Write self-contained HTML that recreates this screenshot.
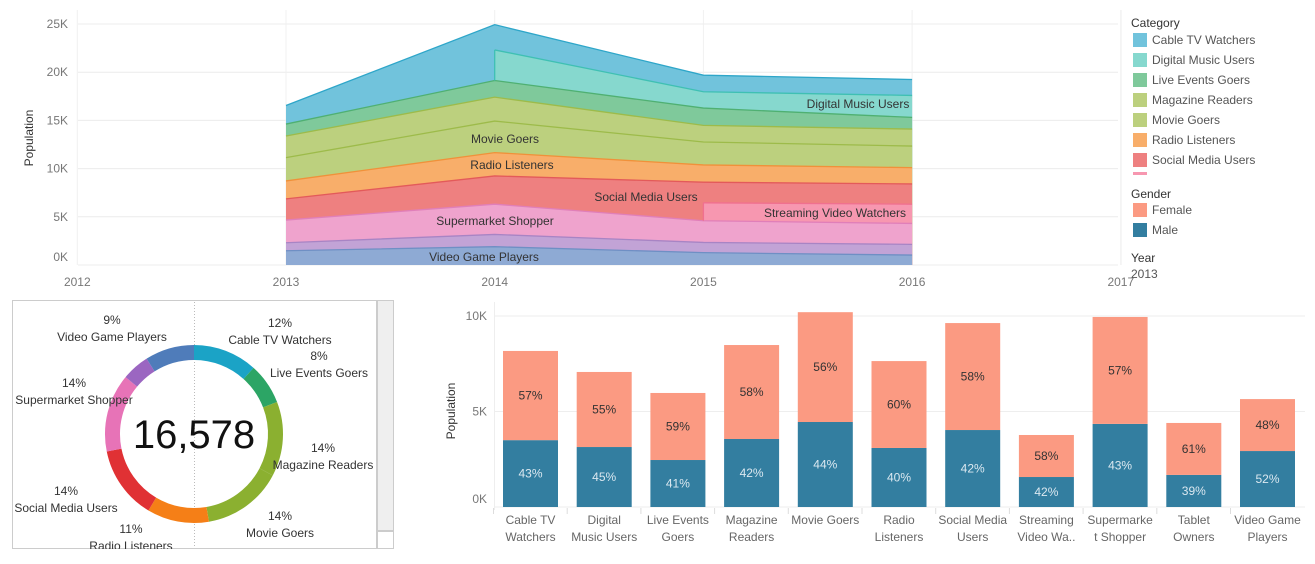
<!DOCTYPE html>
<html><head><meta charset="utf-8">
<style>
body{margin:0;width:1315px;height:559px;overflow:hidden;background:#fff;font-family:"Liberation Sans",sans-serif;}
svg text{font-family:"Liberation Sans",sans-serif;}
</style></head>
<body>
<svg id="root" width="1315" height="559">
  <g id="area"></g>
  <g id="legend"></g>
  <g id="donut"></g>
  <g id="bars"></g>
</svg>
<script>
const NS="http://www.w3.org/2000/svg";
function mk(parent,tag,attrs,text){const e=document.createElementNS(NS,tag);for(const k in attrs)e.setAttribute(k,attrs[k]);if(text!==undefined)e.textContent=text;parent.appendChild(e);return e;}

// ---------- Area chart data ----------
const years=[2013,2014,2015,2016];
const seriesNames=["Video Game Players","Tablet Owners","Supermarket Shopper","Streaming Video Watchers","Social Media Users","Radio Listeners","Movie Goers","Magazine Readers","Live Events Goers","Digital Music Users","Cable TV Watchers"];
const videoVals=[1.48,1.90,1.28,1.03];
const tabletVals=[0.83,1.27,1.06,1.11];
const superVals=[2.35,3.14,2.25,2.17];
const streamVals=[null,null,1.86,2.00];
const socialVals=[2.20,2.93,2.14,2.10];
const radioVals=[1.86,2.42,1.79,1.69];
const movieVals=[2.42,3.27,2.38,2.24];
const magVals=[2.24,2.48,1.72,1.76];
const liveVals=[1.24,1.73,1.80,1.21];
const digitalVals=[null,3.17,1.69,2.28];
const cableVals=[1.93,2.62,1.72,1.65];
const areaTicks=[0,5,10,15,20,25];
const xTickYears=[2012,2013,2014,2015,2016,2017];

const allVals=[videoVals,tabletVals,superVals,streamVals,socialVals,radioVals,movieVals,magVals,liveVals,digitalVals,cableVals];
const fills=["#8eaad4","#c2a3d6","#efa3cd","#f797b0","#ee8080","#f8ae6a","#bcd07e","#bcd07e","#7fc99b","#86d8ce","#71c3dc"];
const strokes=["#6f8fc4","#a884c4","#e07fb9","#f0708f","#e35a5a","#f0913a","#9dbb4a","#9dbb4a","#4fb072","#3fc0b3","#2ea6c9"];

const ax=y=>286+(y-2013)*208.7;
const ay=v=>265-v*9.64;
const A=document.getElementById('area');
areaTicks.forEach(t=>{
  const g=mk(A,'line',{x1:78,x2:1118,y1:ay(t),y2:ay(t),stroke:"#ececec"});
  
  
  const l=mk(A,'text',{x:68,y:t===0?261:ay(t)+4,'text-anchor':'end','font-size':12,fill:'#777'},t+'K');
  
  
});
xTickYears.forEach(y=>{
  const g=mk(A,'line',{x1:ax(y),x2:ax(y),y1:10,y2:265,stroke:"#f0f0f0"});
  
  
  const l=mk(A,'text',{x:ax(y),y:286,'text-anchor':'middle','font-size':12,fill:'#777'},String(y));
  
  
});
const yt=mk(A,'text',{x:0,y:0,transform:'translate(33,138) rotate(-90)','text-anchor':'middle','font-size':12,fill:'#333'},'Population');



// compute cumulative tops
const cum=years.map(()=>0);
const tops=[];
allVals.forEach((vals,si)=>{
  const idx=[];vals.forEach((v,i)=>{if(v!==null)idx.push(i);});
  const up=idx.map(i=>cum[i]+vals[i]);
  idx.forEach((i,k)=>{cum[i]=up[k];});
  tops.push({idx:idx,up:up});
});
// paint top-down, each from baseline 0 to its top
for(let si=allVals.length-1;si>=0;si--){
  const {idx,up}=tops[si];
  let d='M'+ax(years[idx[0]])+','+ay(0);
  idx.forEach((i,k)=>{d+='L'+ax(years[i])+','+ay(up[k]);});
  d+='L'+ax(years[idx[idx.length-1]])+','+ay(0)+'Z';
  const p=mk(A,'path',{d:d,fill:fills[si],stroke:'none'});
  
  
}
// top lines
tops.forEach(({idx,up},si)=>{
  let ld='';
  idx.forEach((i,k)=>{ld+=(k?'L':'M')+ax(years[i])+','+ay(up[k]);});
  const ln=mk(A,'path',{d:ld,fill:'none',stroke:strokes[si],'stroke-width':1.3});
  
  
  if(idx[0]>0){
    const x=ax(years[idx[0]]);
    const prev=tops.slice(0,si).filter(t=>t.idx.includes(idx[0])).pop();
    const low=prev?prev.up[prev.idx.indexOf(idx[0])]:0;
    const v=mk(A,'line',{x1:x,x2:x,y1:ay(low),y2:ay(up[0]),stroke:strokes[si],'stroke-width':1.3});
    
    
  }
});
const areaLabels=[["Digital Music Users",858,108],["Movie Goers",505,143],["Radio Listeners",512,169],["Social Media Users",646,201],["Streaming Video Watchers",835,217],["Supermarket Shopper",495,225],["Video Game Players",484,261]];
areaLabels.forEach(l=>{
  const t=mk(A,'text',{x:l[1],y:l[2],'text-anchor':'middle','font-size':12,fill:'#333'},l[0]);
  
  
});

// ---------- Legend ----------
const L=document.getElementById('legend');
mk(L,'line',{x1:1121,x2:1121,y1:10,y2:265,stroke:'#eee'});
const legCats=["Cable TV Watchers","Digital Music Users","Live Events Goers","Magazine Readers","Movie Goers","Radio Listeners","Social Media Users"];
const legColors=["#71c3dc","#86d8ce","#7fc99b","#bcd07e","#bcd07e","#f8ae6a","#ee8080"];
let t=mk(L,'text',{x:1131,y:27,'font-size':12,fill:'#333'},'Category');

legCats.forEach((c,i)=>{
  const y=33+i*20;
  const r=mk(L,'rect',{x:1133,y:y,width:14,height:14,fill:legColors[i]});
  
  const tx=mk(L,'text',{x:1152,y:y+11,'font-size':12,fill:'#555'},c);
  
});
mk(L,'rect',{x:1133,y:172,width:14,height:3,fill:'#f797b0'});
t=mk(L,'text',{x:1131,y:198,'font-size':12,fill:'#333'},'Gender');

[["Female","#fb9a82"],["Male","#337ea0"]].forEach((g,i)=>{
  const y=203+i*20;
  const r=mk(L,'rect',{x:1133,y:y,width:14,height:14,fill:g[1]});
  
  const tx=mk(L,'text',{x:1152,y:y+11,'font-size':12,fill:'#555'},g[0]);
  
});
t=mk(L,'text',{x:1131,y:262,'font-size':12,fill:'#333'},'Year');

t=mk(L,'text',{x:1131,y:278,'font-size':12,fill:'#555'},'2013');


// ---------- Donut ----------
const donutCats=["Cable TV Watchers","Live Events Goers","Magazine Readers","Movie Goers","Radio Listeners","Social Media Users","Supermarket Shopper","Tablet Owners","Video Game Players"];
const donutVals=[1.93,1.24,2.24,2.42,1.86,2.20,2.35,0.83,1.48];
const donutColors=["#1ba3c6","#2ca565","#8bb030","#8bb030","#f57f17","#e03134","#e773b7","#9b66c1","#4f7cba"];
const D=document.getElementById('donut');
mk(D,'rect',{x:12.5,y:300.5,width:364,height:248,fill:'#fff',stroke:'#ccc'});
const sb=mk(D,'rect',{x:377.5,y:300.5,width:16,height:230,fill:'#efefef',stroke:'#ccc'});

mk(D,'rect',{x:377.5,y:531.5,width:16,height:17,fill:'#fff',stroke:'#ccc'});
mk(D,'line',{x1:194.5,x2:194.5,y1:302,y2:548,stroke:'#bbb','stroke-dasharray':'1,2'});
const cx=194,cy=434,ro=89,ri=74;
const tot=donutVals.reduce((a,b)=>a+b,0);
let ang=0;
donutVals.forEach((v,i)=>{
  const a0=ang,a1=ang+v/tot*2*Math.PI;ang=a1;
  const p=(r,a)=>[cx+r*Math.sin(a),cy-r*Math.cos(a)];
  const [x0,y0]=p(ro,a0),[x1,y1]=p(ro,a1),[x2,y2]=p(ri,a1),[x3,y3]=p(ri,a0);
  const lg=(a1-a0)>Math.PI?1:0;
  const s=mk(D,'path',{d:`M${x0},${y0}A${ro},${ro} 0 ${lg} 1 ${x1},${y1}L${x2},${y2}A${ri},${ri} 0 ${lg} 0 ${x3},${y3}Z`,fill:donutColors[i]});
  
  
});
t=mk(D,'text',{x:cx,y:cy+14,'text-anchor':'middle','font-size':40,fill:'#111'},'16,578');

const dl=[["9%","Video Game Players",112,320],["12%","Cable TV Watchers",280,323],["8%","Live Events Goers",319,356],["14%","Magazine Readers",323,448],["14%","Movie Goers",280,516],["11%","Radio Listeners",131,529],["14%","Social Media Users",66,491],["14%","Supermarket Shopper",74,383]];
dl.forEach(l=>{
  const a=mk(D,'text',{x:l[2],y:l[3]+4,'text-anchor':'middle','font-size':12,fill:'#333'},l[0]);
  
  const b=mk(D,'text',{x:l[2],y:l[3]+21,'text-anchor':'middle','font-size':12,fill:'#333'},l[1]);
  
});
mk(D,'rect',{x:0,y:549,width:400,height:10,fill:'#fff'});

// ---------- Bar chart ----------
const barCats=[["Cable TV","Watchers"],["Digital","Music Users"],["Live Events","Goers"],["Magazine","Readers"],["Movie Goers",""],["Radio","Listeners"],["Social Media","Users"],["Streaming","Video Wa.."],["Supermarke","t Shopper"],["Tablet","Owners"],["Video Game","Players"]];
const maleVals=[3.50,3.14,2.46,3.56,4.45,3.09,4.03,1.57,4.35,1.68,2.93];
const femaleVals=[4.67,3.93,3.51,4.92,5.75,4.55,5.60,2.20,5.60,2.72,2.72];
const malePct=["43%","45%","41%","42%","44%","40%","42%","42%","43%","39%","52%"];
const femalePct=["57%","55%","59%","58%","56%","60%","58%","58%","57%","61%","48%"];
const barTicks=[0,5,10];
const B=document.getElementById('bars');
const by=v=>507-v*19.1;
const bx=i=>503+i*73.7;
barTicks.forEach(tk=>{
  const g=mk(B,'line',{x1:494,x2:1305,y1:by(tk),y2:by(tk),stroke:'#eee'});
  
  const l=mk(B,'text',{x:487,y:tk===0?503:by(tk)+4,'text-anchor':'end','font-size':12,fill:'#777'},tk+'K');
  
});
mk(B,'line',{x1:494.5,x2:494.5,y1:302,y2:510,stroke:'#eee'});
t=mk(B,'text',{x:0,y:0,transform:'translate(455,411) rotate(-90)','text-anchor':'middle','font-size':12,fill:'#333'},'Population');

barCats.forEach((c,i)=>{
  const x=bx(i),w=55;
  const m=mk(B,'rect',{x:x,y:by(maleVals[i]),width:w,height:by(0)-by(maleVals[i]),fill:'#337ea0'});
  
  const top=maleVals[i]+femaleVals[i];
  const f=mk(B,'rect',{x:x,y:by(top),width:w,height:by(maleVals[i])-by(top),fill:'#fb9a82'});
  
  const ml=mk(B,'text',{x:x+w/2,y:(by(0)+by(maleVals[i]))/2+4,'text-anchor':'middle','font-size':12,fill:'#dbe8f0'},malePct[i]);
  
  const fl=mk(B,'text',{x:x+w/2,y:(by(maleVals[i])+by(top))/2+4,'text-anchor':'middle','font-size':12,fill:'#333'},femalePct[i]);
  
  const a=mk(B,'text',{x:x+w/2,y:524,'text-anchor':'middle','font-size':12,fill:'#666'},c[0]);
  
  const b=mk(B,'text',{x:x+w/2,y:541,'text-anchor':'middle','font-size':12,fill:'#666'},c[1]);
  
  mk(B,'line',{x1:x-9.5,x2:x-9.5,y1:508,y2:514,stroke:'#ddd'});
});
</script>
</body></html>
